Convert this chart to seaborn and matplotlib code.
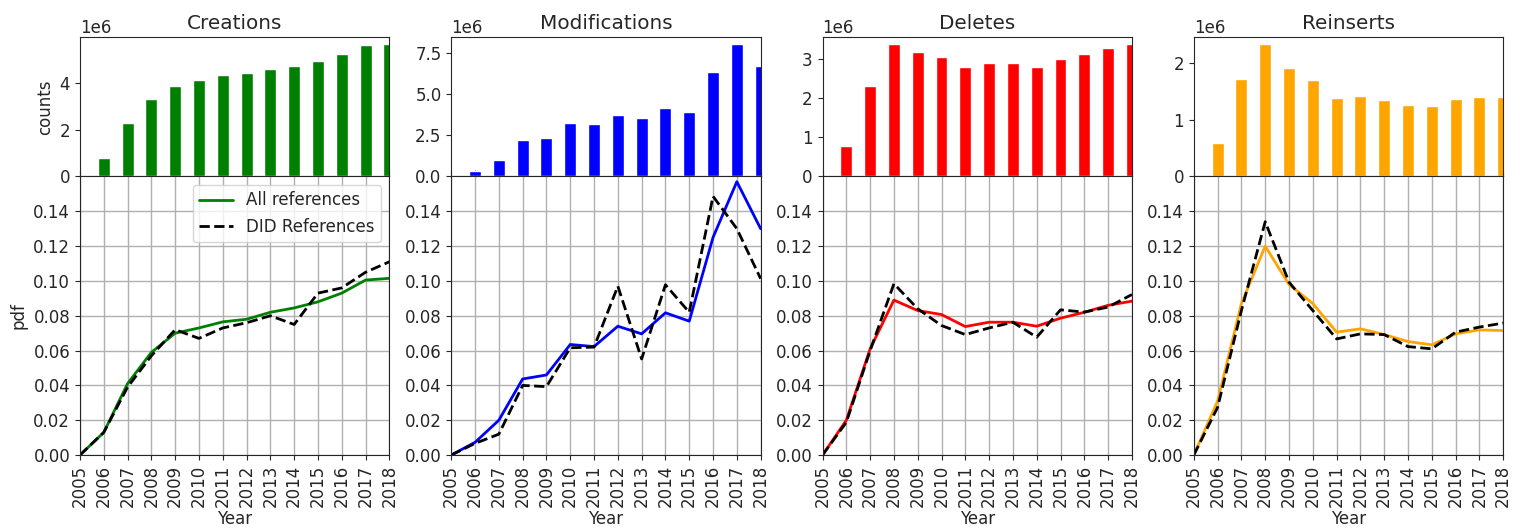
import numpy as np
import pandas as pd
import matplotlib
matplotlib.use('Agg')
import matplotlib.pyplot as plt
import seaborn as sns

years = list(range(2005, 2019))

titles = ['Creations', 'Modifications', 'Deletes', 'Reinserts']
colors = ['green', 'blue', 'red', 'orange']

# yearly counts (millions), 2005..2018
creations_counts = [0, 0.78, 2.29, 3.29, 3.86, 4.10, 4.32, 4.39, 4.57, 4.69, 4.90, 5.21, 5.60, 5.65]
modifications_counts = [0, 0.33, 1.00, 2.24, 2.34, 3.24, 3.18, 3.77, 3.59, 4.18, 3.95, 6.40, 8.09, 6.71]
deletes_counts = [0, 0.78, 2.32, 3.39, 3.17, 3.06, 2.81, 2.91, 2.91, 2.81, 2.99, 3.13, 3.28, 3.38]
reinserts_counts = [0, 0.59, 1.71, 2.33, 1.91, 1.69, 1.38, 1.41, 1.34, 1.26, 1.23, 1.36, 1.40, 1.39]

# pdf, all references
creations_all = [0, 0.013, 0.041, 0.059, 0.070, 0.073, 0.0765, 0.078, 0.082, 0.0845, 0.088, 0.093, 0.1005, 0.1015]
modifications_all = [0, 0.0073, 0.020, 0.0437, 0.046, 0.0635, 0.0623, 0.074, 0.0696, 0.0817, 0.0769, 0.125, 0.157, 0.130]
deletes_all = [0, 0.020, 0.061, 0.089, 0.083, 0.0807, 0.0738, 0.0763, 0.0763, 0.074, 0.0786, 0.082, 0.086, 0.0884]
reinserts_all = [0, 0.031, 0.087, 0.120, 0.098, 0.087, 0.0706, 0.0725, 0.0692, 0.0652, 0.0633, 0.0696, 0.0719, 0.0715]

# pdf, DID references
creations_did = [0, 0.013, 0.039, 0.057, 0.072, 0.067, 0.073, 0.076, 0.080, 0.075, 0.093, 0.096, 0.105, 0.111]
modifications_did = [0, 0.0067, 0.012, 0.040, 0.0393, 0.0616, 0.062, 0.097, 0.0552, 0.0978, 0.082, 0.1486, 0.130, 0.1013]
deletes_did = [0, 0.0188, 0.060, 0.0984, 0.084, 0.0744, 0.0692, 0.073, 0.0763, 0.0677, 0.0834, 0.0821, 0.085, 0.0922]
reinserts_did = [0, 0.0274, 0.083, 0.134, 0.0993, 0.083, 0.0667, 0.0696, 0.0692, 0.0623, 0.061, 0.0706, 0.0735, 0.0758]

counts = [creations_counts, modifications_counts, deletes_counts, reinserts_counts]
all_refs = [creations_all, modifications_all, deletes_all, reinserts_all]
did_refs = [creations_did, modifications_did, deletes_did, reinserts_did]


def main():
    sns.set_style('ticks')
    plt.rcParams['font.family'] = ['DejaVu Sans']
    plt.rcParams['font.size'] = 12

    fig, axes = plt.subplots(2, 4, figsize=(15.23, 5.31), dpi=100,
                             gridspec_kw={'height_ratios': [1, 2]})
    fig.subplots_adjust(left=0.0525, right=0.987, top=0.93, bottom=0.143,
                        hspace=0, wspace=0.2)

    for i in range(4):
        top = axes[0, i]
        bot = axes[1, i]
        top.sharex(bot)

        sns.barplot(x=years, y=np.array(counts[i]) * 1e6, color=colors[i],
                    native_scale=True, width=0.5, saturation=1, ax=top)
        top.set_title(titles[i], fontsize=14.4)
        top.tick_params(axis='x', direction='in', labelbottom=False, length=4)
        top.tick_params(axis='y', labelsize=12)
        top.set_xlabel('')
        top.set_ylabel('counts' if i == 0 else '', fontsize=12)
        top.yaxis.get_offset_text().set_fontsize(12)

        df = pd.DataFrame({'Year': years, 'all': all_refs[i], 'did': did_refs[i]})
        sns.lineplot(data=df, x='Year', y='all', color=colors[i], lw=2,
                     label='All references', ax=bot)
        sns.lineplot(data=df, x='Year', y='did', color='black', lw=2,
                     linestyle='--', label='DID References', ax=bot)
        bot.set_xlim(2005, 2018)
        bot.set_ylim(0, 0.16)
        bot.set_xticks(years)
        bot.set_xticklabels([str(y) for y in years], rotation=90, fontsize=12)
        bot.set_yticks(np.arange(0, 0.15, 0.02))
        bot.set_yticklabels(['%.2f' % v for v in np.arange(0, 0.15, 0.02)], fontsize=12)
        bot.grid(True, color='#b0b0b0', lw=1)
        bot.set_xlabel('Year', fontsize=12, labelpad=2)
        bot.set_ylabel('pdf' if i == 0 else '', fontsize=12)
        if i == 0:
            bot.legend(loc='upper right', fontsize=12, frameon=True)
        else:
            bot.get_legend().remove()

    fig.savefig('out.png', dpi=100)


if __name__ == '__main__':
    main()
